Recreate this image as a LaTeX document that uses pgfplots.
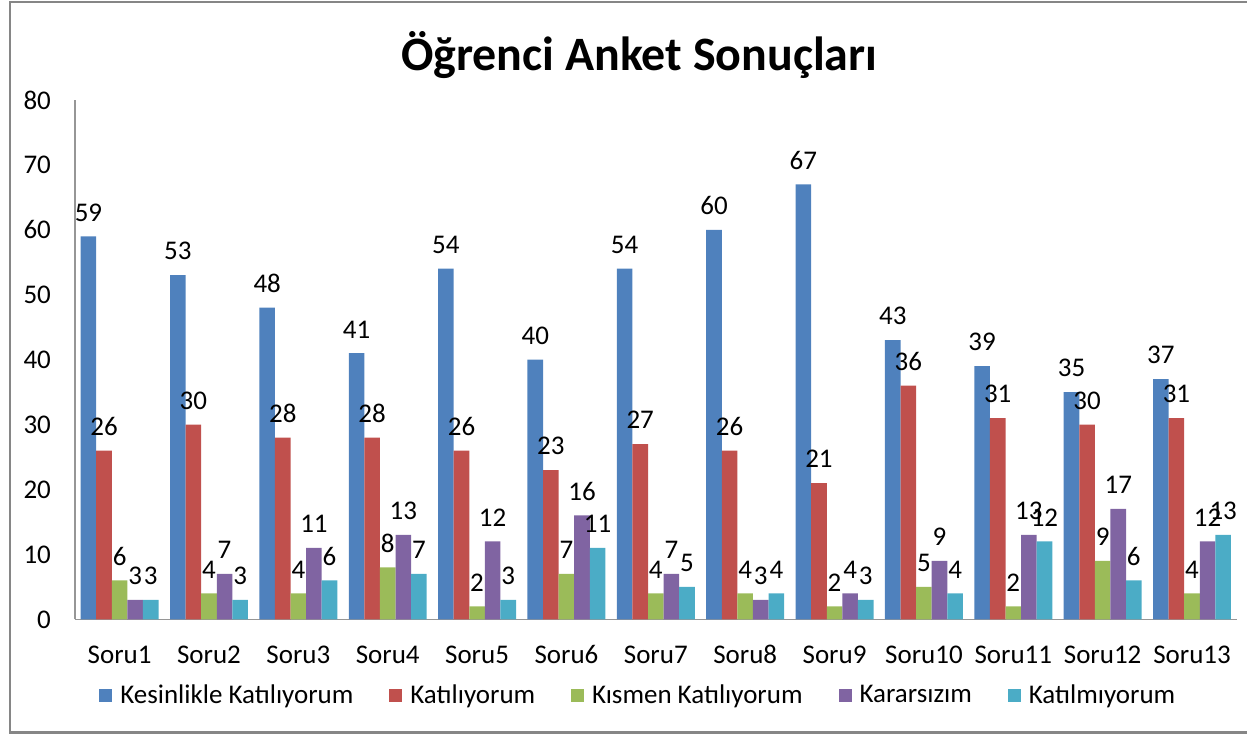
\documentclass[border=0pt]{standalone}
\usepackage{fontspec}
\setmainfont{Carlito}
\usepackage{pgfplots}
\pgfplotsset{compat=1.18}
\definecolor{c1}{HTML}{4F81BD}
\definecolor{c2}{HTML}{C0504D}
\definecolor{c3}{HTML}{9BBB59}
\definecolor{c4}{HTML}{8064A2}
\definecolor{c5}{HTML}{4BACC6}
\definecolor{frame}{RGB}{134,134,134}
\definecolor{axline}{RGB}{150,150,150}

\begin{document}
\begin{tikzpicture}
\begin{axis}[
  at={(0,0)}, anchor=south west,
  scale only axis,
  width=581.5pt, height=260pt,
  ybar=0pt, bar width=7.8pt,
  xmin=-0.5, xmax=12.5,
  ymin=0, ymax=80,
  ytick={0,10,...,80},
  xtick={0,...,12},
  xticklabels={Soru1,Soru2,Soru3,Soru4,Soru5,Soru6,Soru7,Soru8,Soru9,Soru10,Soru11,Soru12,Soru13},
  axis x line*=bottom, axis y line*=left,
  axis line style={draw=axline, line width=0.8pt},
  x axis line style={-}, y axis line style={-},
  major tick length=0pt,
  xticklabel style={yshift=-11pt, text height=1.6ex, text depth=0.2ex},
  yticklabel style={xshift=-8.5pt},
  tick label style={font=\fontsize{13.5}{15}\selectfont},
  /pgf/number format/assume math mode=true,
  nodes near coords,
  nodes near coords style={font=\fontsize{13.5}{15}\selectfont, yshift=4pt},
  legend columns=5,
  legend style={at={(0.4858,-0.146)}, anchor=center, draw=none,
    font=\fontsize{13.5}{15}\selectfont,
    /tikz/every even column/.append style={column sep=16pt}},
  legend image code/.code={\fill[#1] (0pt,-3.2pt) rectangle (6.5pt,3.2pt); \path (8.5pt,0pt);},
  clip=false,
]
\addplot[fill=c1, draw=none] coordinates {(0,59)(1,53)(2,48)(3,41)(4,54)(5,40)(6,54)(7,60)(8,67)(9,43)(10,39)(11,35)(12,37)};
\addplot[fill=c2, draw=none] coordinates {(0,26)(1,30)(2,28)(3,28)(4,26)(5,23)(6,27)(7,26)(8,21)(9,36)(10,31)(11,30)(12,31)};
\addplot[fill=c3, draw=none] coordinates {(0,6)(1,4)(2,4)(3,8)(4,2)(5,7)(6,4)(7,4)(8,2)(9,5)(10,2)(11,9)(12,4)};
\addplot[fill=c4, draw=none] coordinates {(0,3)(1,7)(2,11)(3,13)(4,12)(5,16)(6,7)(7,3)(8,4)(9,9)(10,13)(11,17)(12,12)};
\addplot[fill=c5, draw=none] coordinates {(0,3)(1,3)(2,6)(3,7)(4,3)(5,11)(6,5)(7,4)(8,3)(9,4)(10,12)(11,6)(12,13)};
\legend{Kesinlikle Katılıyorum, Katılıyorum, Kısmen Katılıyorum, Kararsızım, Katılmıyorum}
\end{axis}
\node[font=\fontsize{24}{28}\selectfont\bfseries] at (282.5pt,282.5pt) {Öğrenci Anket Sonuçları};
\draw[frame, line width=1.3pt] (586.5pt,309pt) -- (-32.5pt,309pt) -- (-32.5pt,-56.5pt) -- (586.5pt,-56.5pt);
\path[use as bounding box] (-37.5pt,-58pt) rectangle (586.5pt,310pt);
\end{tikzpicture}
\end{document}
